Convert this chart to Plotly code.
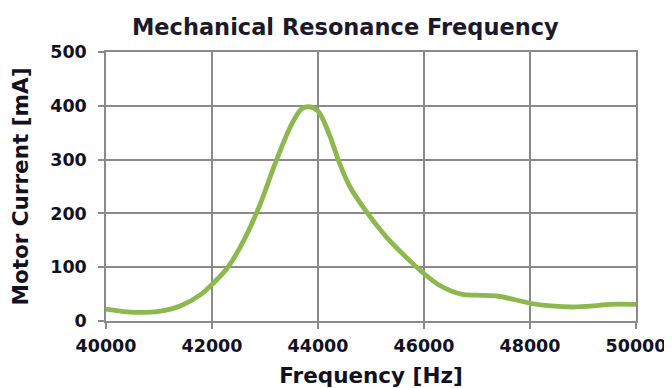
import plotly.graph_objects as go

freq_hz = [40000, 40300, 40600, 41000, 41400, 41800, 42000, 42300, 42600, 42900,
           43200, 43500, 43700, 43850, 44000, 44200, 44400, 44600, 44900, 45300,
           45700, 46000, 46300, 46700, 47000, 47400, 47700, 48000, 48400, 48800,
           49200, 49500, 50000]
current_ma = [22, 18, 16, 18, 28, 50, 68, 100, 150, 215,
              295, 365, 395, 398, 390, 350, 295, 250, 205, 155,
              115, 88, 66, 50, 48, 46, 40, 33, 28, 26,
              28, 31, 31]

x_ticks = [40000, 42000, 44000, 46000, 48000, 50000]
y_ticks = [0, 100, 200, 300, 400, 500]

font_family = "DejaVu Sans, Verdana, sans-serif"

fig = go.Figure()
fig.add_trace(go.Scatter(
    x=freq_hz, y=current_ma, mode="lines",
    line=dict(color="#8DB84E", width=4.8, shape="spline", smoothing=1.0),
    showlegend=False,
))

fig.update_layout(
    width=664, height=380,
    margin=dict(l=98, r=36, t=44, b=67),
    paper_bgcolor="white", plot_bgcolor="white",
    title=dict(text="<b>Mechanical Resonance Frequency</b>", x=0.508, xanchor="center",
               y=0.95, yanchor="middle",
               font=dict(family=font_family, size=22.5, color="#1a1a2a")),
    font=dict(family=font_family, color="#111122"),
)

fig.update_xaxes(
    range=[40000, 50000], tickvals=x_ticks, ticktext=[f"<b>{v}</b>" for v in x_ticks],
    tickfont=dict(size=17.5), showgrid=True, gridcolor="#8a8a8a", gridwidth=1.5,
    showline=True, linecolor="#8a8a8a", linewidth=1.5, mirror=True,
    ticks="outside", ticklen=6, tickcolor="#8a8a8a", tickwidth=1.5,
    ticklabelstandoff=2, automargin=False,
    zeroline=False,
    title=dict(text="<b>Frequency [Hz]</b>", font=dict(size=21.5), standoff=14),
)
fig.update_yaxes(
    range=[0, 500], tickvals=y_ticks, ticktext=[f"<b>{v}</b>" for v in y_ticks],
    tickfont=dict(size=17.5), showgrid=True, gridcolor="#8a8a8a", gridwidth=1.5,
    showline=True, linecolor="#8a8a8a", linewidth=1.5, mirror=True,
    ticks="outside", ticklen=6, tickcolor="#8a8a8a", tickwidth=1.5,
    ticklabelstandoff=8, automargin=False,
    zeroline=False,
    title=dict(text="<b>Motor Current [mA]</b>", font=dict(size=21.5), standoff=17),
)

fig.write_html("out.html")
